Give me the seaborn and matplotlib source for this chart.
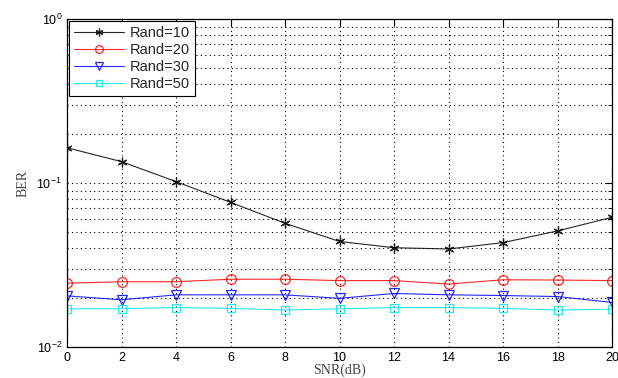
import numpy as np
import pandas as pd
import matplotlib
matplotlib.use("Agg")
import matplotlib.pyplot as plt
import seaborn as sns

snr = [0, 2, 4, 6, 8, 10, 12, 14, 16, 18, 20]
ber_rand10 = [0.164, 0.135, 0.102, 0.0762, 0.0568, 0.0440, 0.0403, 0.0396, 0.0433, 0.0510, 0.0618]
ber_rand20 = [0.0245, 0.0250, 0.0250, 0.0259, 0.0259, 0.0254, 0.0254, 0.0242, 0.0257, 0.0256, 0.0254]
ber_rand30 = [0.0205, 0.0194, 0.0208, 0.0208, 0.0208, 0.0198, 0.0212, 0.0208, 0.0206, 0.0203, 0.0187]
ber_rand50 = [0.0171, 0.0171, 0.0174, 0.0172, 0.0168, 0.0171, 0.0174, 0.0174, 0.0172, 0.0168, 0.0170]
labels = ["Rand=10", "Rand=20", "Rand=30", "Rand=50"]

sns.set_style("white")
plt.rcParams['font.family'] = ['Liberation Sans', 'DejaVu Sans']
plt.rcParams['mathtext.fontset'] = 'custom'
plt.rcParams['mathtext.rm'] = 'Liberation Sans'
plt.rcParams['mathtext.it'] = 'Liberation Sans:italic'

fig = plt.figure(figsize=(6.18, 3.78), dpi=100)
ax = fig.add_axes([67/618, 1-347/378, (612-67)/618, (347-19)/378])

series = [ber_rand10, ber_rand20, ber_rand30, ber_rand50]
colors = ["black", "#ff0000", "#0000ff", "#00e5ee"]
markers = [(6, 2, 0), "o", "v", "s"]
msizes = [7, 7, 7, 6]
for vals, lab, c, m, ms in zip(series, labels, colors, markers, msizes):
    df = pd.DataFrame({"SNR": snr, "BER": vals})
    sns.lineplot(data=df, x="SNR", y="BER", ax=ax, color=c, marker=m,
                 markersize=ms, mfc='none', mec=c, mew=0.9, lw=0.8,
                 label=lab, alpha=0.85)

ax.set_yscale('log')
ax.set_ylim(1e-2, 1)
ax.set_xlim(0, 20)
ax.set_xticks(np.arange(0, 21, 2))
ax.grid(True, which='major', axis='both', color='black', linestyle=(0, (1, 3)), lw=0.8)
ax.grid(True, which='minor', axis='y', color='black', linestyle=(0, (1, 3)), lw=0.8)
ax.tick_params(which='both', direction='in', top=True, right=True, labelsize=9, colors='black')
ax.tick_params(which='major', length=5)
ax.tick_params(which='minor', length=3)
for s in ax.spines.values():
    s.set_color('black')
    s.set_linewidth(0.9)

ax.set_xlabel("SNR(dB)", family=['Liberation Serif'], fontsize=10, color='#444444', labelpad=0)
ax.set_ylabel("BER", family=['Liberation Serif'], fontsize=10, color='#444444', labelpad=5)

leg = ax.legend(loc='upper left', fontsize=10.5, frameon=True, fancybox=False,
                edgecolor='black', borderaxespad=0.15, handlelength=3.4,
                labelspacing=0.2, borderpad=0.35, handletextpad=0.4, markerscale=0.8)
leg.get_frame().set_linewidth(0.8)
leg.get_frame().set_alpha(1)

fig.savefig("out.png", dpi=100)
